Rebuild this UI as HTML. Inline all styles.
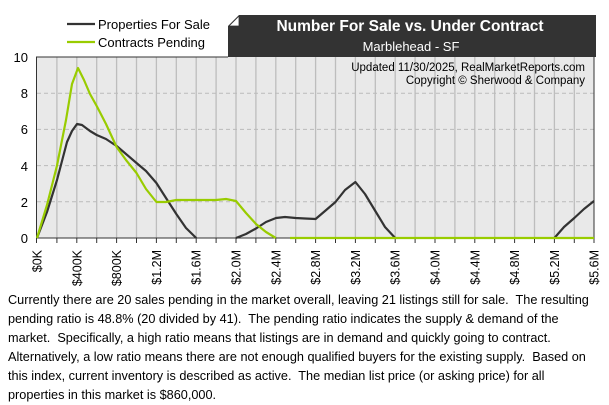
<!DOCTYPE html>
<html><head><meta charset="utf-8"><style>
body{margin:0;background:#fff;width:609px;height:400px;overflow:hidden;font-family:"Liberation Sans",Arial,sans-serif}
.t{position:absolute;left:8px;top:291px;width:592px;font-size:12.7px;line-height:19px;color:#000}
</style></head><body>
<svg width="609" height="290" style="position:absolute;left:0;top:0" font-family="Liberation Sans, Arial, sans-serif">
<rect x="37" y="57" width="557" height="181" fill="#e9e9e9"/>
<g stroke="#bdbdbd" stroke-width="1.3">
<line x1="56.9" y1="57" x2="56.9" y2="238"/><line x1="76.8" y1="57" x2="76.8" y2="238"/><line x1="96.7" y1="57" x2="96.7" y2="238"/><line x1="116.6" y1="57" x2="116.6" y2="238"/><line x1="136.5" y1="57" x2="136.5" y2="238"/><line x1="156.4" y1="57" x2="156.4" y2="238"/><line x1="176.3" y1="57" x2="176.3" y2="238"/><line x1="196.2" y1="57" x2="196.2" y2="238"/><line x1="216.1" y1="57" x2="216.1" y2="238"/><line x1="236" y1="57" x2="236" y2="238"/><line x1="255.9" y1="57" x2="255.9" y2="238"/><line x1="275.8" y1="57" x2="275.8" y2="238"/><line x1="295.7" y1="57" x2="295.7" y2="238"/><line x1="315.6" y1="57" x2="315.6" y2="238"/><line x1="335.5" y1="57" x2="335.5" y2="238"/><line x1="355.4" y1="57" x2="355.4" y2="238"/><line x1="375.3" y1="57" x2="375.3" y2="238"/><line x1="395.2" y1="57" x2="395.2" y2="238"/><line x1="415.1" y1="57" x2="415.1" y2="238"/><line x1="435" y1="57" x2="435" y2="238"/><line x1="454.9" y1="57" x2="454.9" y2="238"/><line x1="474.8" y1="57" x2="474.8" y2="238"/><line x1="494.7" y1="57" x2="494.7" y2="238"/><line x1="514.6" y1="57" x2="514.6" y2="238"/><line x1="534.5" y1="57" x2="534.5" y2="238"/><line x1="554.4" y1="57" x2="554.4" y2="238"/><line x1="574.3" y1="57" x2="574.3" y2="238"/>
</g>
<g stroke="#bbb" stroke-dasharray="4,3" stroke-width="1">
<line x1="37" y1="93.2" x2="594" y2="93.2"/><line x1="37" y1="129.4" x2="594" y2="129.4"/><line x1="37" y1="165.6" x2="594" y2="165.6"/><line x1="37" y1="201.8" x2="594" y2="201.8"/>
</g>
<line x1="36.5" y1="57" x2="36.5" y2="238" stroke="#333"/>
<line x1="594" y1="57" x2="594" y2="238" stroke="#333"/>
<line x1="36" y1="238" x2="594" y2="238" stroke="#333"/>
<line x1="36" y1="57" x2="228" y2="57" stroke="#333"/>
<g stroke="#333"><line x1="36.5" y1="238" x2="36.5" y2="243"/><line x1="56.9" y1="238" x2="56.9" y2="243"/><line x1="76.8" y1="238" x2="76.8" y2="243"/><line x1="96.7" y1="238" x2="96.7" y2="243"/><line x1="116.6" y1="238" x2="116.6" y2="243"/><line x1="136.5" y1="238" x2="136.5" y2="243"/><line x1="156.4" y1="238" x2="156.4" y2="243"/><line x1="176.3" y1="238" x2="176.3" y2="243"/><line x1="196.2" y1="238" x2="196.2" y2="243"/><line x1="216.1" y1="238" x2="216.1" y2="243"/><line x1="236" y1="238" x2="236" y2="243"/><line x1="255.9" y1="238" x2="255.9" y2="243"/><line x1="275.8" y1="238" x2="275.8" y2="243"/><line x1="295.7" y1="238" x2="295.7" y2="243"/><line x1="315.6" y1="238" x2="315.6" y2="243"/><line x1="335.5" y1="238" x2="335.5" y2="243"/><line x1="355.4" y1="238" x2="355.4" y2="243"/><line x1="375.3" y1="238" x2="375.3" y2="243"/><line x1="395.2" y1="238" x2="395.2" y2="243"/><line x1="415.1" y1="238" x2="415.1" y2="243"/><line x1="435" y1="238" x2="435" y2="243"/><line x1="454.9" y1="238" x2="454.9" y2="243"/><line x1="474.8" y1="238" x2="474.8" y2="243"/><line x1="494.7" y1="238" x2="494.7" y2="243"/><line x1="514.6" y1="238" x2="514.6" y2="243"/><line x1="534.5" y1="238" x2="534.5" y2="243"/><line x1="554.4" y1="238" x2="554.4" y2="243"/><line x1="574.3" y1="238" x2="574.3" y2="243"/><line x1="594" y1="238" x2="594" y2="243"/></g>
<g font-size="13" text-anchor="end" fill="#000"><text x="28" y="62">10</text><text x="28" y="98">8</text><text x="28" y="134">6</text><text x="28" y="171">4</text><text x="28" y="207">2</text><text x="28" y="243">0</text></g>
<g font-size="12.5" text-anchor="end" fill="#000">
<text transform="translate(41.5,250) rotate(-90)">$0K</text>
<text transform="translate(81.3,250) rotate(-90)">$400K</text>
<text transform="translate(121.1,250) rotate(-90)">$800K</text>
<text transform="translate(160.9,250) rotate(-90)">$1.2M</text>
<text transform="translate(200.7,250) rotate(-90)">$1.6M</text>
<text transform="translate(240.5,250) rotate(-90)">$2.0M</text>
<text transform="translate(280.3,250) rotate(-90)">$2.4M</text>
<text transform="translate(320.1,250) rotate(-90)">$2.8M</text>
<text transform="translate(359.9,250) rotate(-90)">$3.2M</text>
<text transform="translate(399.7,250) rotate(-90)">$3.6M</text>
<text transform="translate(439.5,250) rotate(-90)">$4.0M</text>
<text transform="translate(479.3,250) rotate(-90)">$4.4M</text>
<text transform="translate(519.1,250) rotate(-90)">$4.8M</text>
<text transform="translate(558.9,250) rotate(-90)">$5.2M</text>
<text transform="translate(598.5,250) rotate(-90)">$5.6M</text>
</g>
<g fill="none" stroke-width="2.2" stroke-linejoin="round">
<polyline stroke="#333" points="37,238 47,212 57,180 67,142 72,131 77,124 82,125 90,131 96.7,135 106,139 116.6,146 126,154 136.5,163 146,171 156.4,183 166,198 176.3,214 186,228 196.2,238"/>
<polyline stroke="#333" points="236,238 246,234 256,228.5 266,222 276,218 285,217 295.7,218 305,218.5 315.6,219 325,211 335.5,202 345,190 355.4,182 365,194 375.3,211 385,227 395.2,238"/>
<polyline stroke="#333" points="554.4,238 564,227 574.3,218 584,209 594,201"/>
<polyline stroke="#99cc00" points="37,238 47,205 56.9,166 66,120 72,84 78,68 84,80 90,94 96.7,106 106,124 116.6,147 126,160 136.5,173 146,189 156.4,202 166,202 176.3,200 196.2,200 216,200 226,199 236,201 246,213 256,224 266,232 275.8,238"/>
<line x1="290" y1="238" x2="594" y2="238" stroke="#99cc00"/>
</g>
<path d="M228,57 L228,26 L239,15 L596,15 L596,57 Z" fill="#333"/>
<path d="M229,26 L239,16 L239,26 Z" fill="#fff" stroke="#333" stroke-width="0.8"/>
<text x="410" y="31" text-anchor="middle" font-size="15.5" font-weight="bold" fill="#fff">Number For Sale vs. Under Contract</text>
<text x="411" y="51" text-anchor="middle" font-size="13" fill="#fff">Marblehead - SF</text>
<text x="585" y="71" text-anchor="end" font-size="11.5" fill="#000">Updated 11/30/2025, RealMarketReports.com</text>
<text x="585" y="84" text-anchor="end" font-size="11.5" fill="#000">Copyright © Sherwood &amp; Company</text>
<line x1="67" y1="24" x2="95" y2="24" stroke="#333" stroke-width="2.2"/>
<line x1="67" y1="42" x2="95" y2="42" stroke="#99cc00" stroke-width="2.2"/>
<text x="98" y="29" font-size="13" fill="#000">Properties For Sale</text>
<text x="98" y="47" font-size="13" fill="#000">Contracts Pending</text>
</svg>
<div class="t">Currently there are 20 sales pending in the market overall, leaving 21 listings still for sale.&nbsp; The resulting pending ratio is 48.8% (20 divided by 41).&nbsp; The pending ratio indicates the supply &amp; demand of the market.&nbsp; Specifically, a high ratio means that listings are in demand and quickly going to contract.&nbsp; Alternatively, a low ratio means there are not enough qualified buyers for the existing supply.&nbsp; Based on this index, current inventory is described as active.&nbsp; The median list price (or asking price) for all properties in this market is $860,000.</div>
</body></html>
